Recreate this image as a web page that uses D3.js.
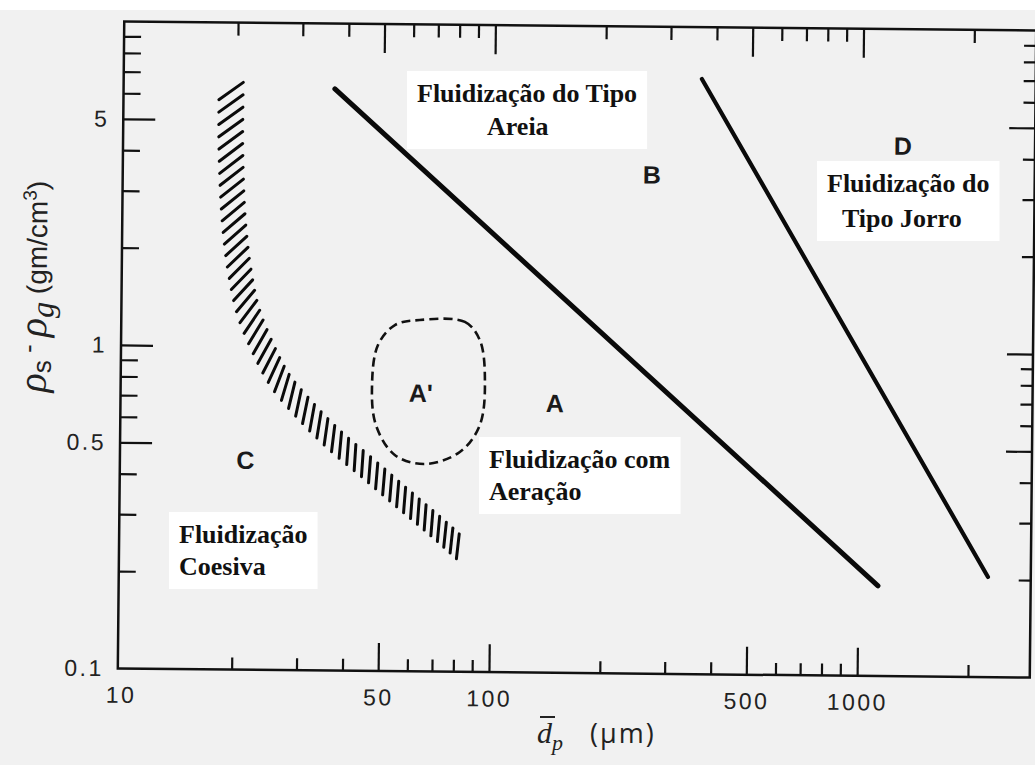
<!DOCTYPE html>
<html>
<head>
<meta charset="utf-8">
<script src="https://cdn.jsdelivr.net/npm/d3@7"></script>
<style>
  html, body { margin: 0; padding: 0; background: #ffffff; }
  svg { display: block; }
</style>
</head>
<body>
<svg id="chart" width="1035" height="765"></svg>
<script>
// ---- axis domains and ticks -------------------------------------------
const xDomain = [10, 3000];          // mean particle diameter, µm
const yDomain = [0.1, 10];           // density difference, g/cm³
const xTickLabels = [10, 50, 100, 500, 1000];
const yTickLabels = [0.1, 0.5, 1, 5];
const xMajorTicks = [50, 100, 500, 1000];
const xMinorTicks = [20, 30, 40, 60, 70, 80, 90, 200, 300, 400, 600, 700, 800, 900, 2000];
const yMajorTicks = [0.5, 1, 5];
const yMinorTicks = [0.2, 0.3, 0.4, 0.6, 0.7, 0.8, 0.9, 2, 3, 4, 6, 7, 8, 9];

// ---- group boundaries (dp µm, ρs-ρg g/cm³) ------------------------------
const boundaryAB = [[36.8, 6.28], [1133, 0.19]];
const boundaryBD = [[365, 6.92], [2253, 0.204]];
// centre line of the hatched C / A transition band
const bandCA = [
  [19.23, 6.41], [19.28, 4.04], [19.72, 2.45], [20.5, 1.72], [21.68, 1.29],
  [23.64, 1.01], [26.59, 0.788], [31.1, 0.638], [37.57, 0.516], [46.89, 0.418],
  [58.47, 0.338], [72.89, 0.274], [83.78, 0.238]
];
// outline of region A'
const regionAPrime = [
  [63.47, 1.22], [84.17, 1.207], [92.51, 1.062], [95.75, 0.80], [93.0, 0.58],
  [82.21, 0.478], [66.12, 0.438], [54.74, 0.466], [48.56, 0.576], [47.28, 0.765],
  [48.95, 1.018], [54.35, 1.175]
];
// group letters
const groupNames = ["A", "A'", "B", "C", "D"];
const groupX = [148.5, 64.2, 268.4, 21.5, 1288];
const groupY = [0.682, 0.726, 3.49, 0.445, 4.36];

// regime descriptions (Portuguese captions)
const regimeLines = [
  ["Fluidização do Tipo", "Areia"],
  ["Fluidização do", "Tipo Jorro"],
  ["Fluidização com", "Aeração"],
  ["Fluidização", "Coesiva"]
];

// ---- layout ------------------------------------------------------------
const W = 1035, H = 765;
const frame = { left: 121, right: 1033, top: 26, bottom: 673 };
const svg = d3.select("#chart");

svg.append("rect").attr("width", W).attr("height", H).attr("fill", "#f1f1f1");
svg.append("rect").attr("width", W).attr("height", 10).attr("fill", "#ffffff");

const x = d3.scaleLog().domain(xDomain).range([124, 1036]);
const y = d3.scaleLog().domain(yDomain).range([frame.bottom, frame.top]);

// the printed figure sits slightly skewed on the page
const plot = svg.append("g").attr("transform", "rotate(0.57, 577, 350)");

// caption boxes and captions (drawn flat, on top of the page)
const captionLayer = svg.append("g");

// ---- frame -------------------------------------------------------------
plot.append("rect")
  .attr("x", frame.left).attr("y", frame.top)
  .attr("width", frame.right - frame.left).attr("height", frame.bottom - frame.top)
  .attr("fill", "none").attr("stroke", "#111").attr("stroke-width", 2.5);

function tickAxis(axisFn, scale, values, size, transform) {
  const g = plot.append("g").attr("transform", transform)
    .call(axisFn(scale).tickValues(values).tickSize(size).tickFormat(""));
  g.select(".domain").remove();
  g.selectAll(".tick line").attr("stroke", "#111").attr("stroke-width", 2.2);
  return g;
}
// inward-pointing ticks on all four sides
tickAxis(d3.axisBottom, x, xMinorTicks, -12, `translate(0,${frame.bottom})`);
tickAxis(d3.axisBottom, x, xMajorTicks, -28, `translate(0,${frame.bottom})`);
tickAxis(d3.axisTop, x, xMinorTicks, -13, `translate(0,${frame.top})`);
tickAxis(d3.axisTop, x, xMajorTicks, -29, `translate(0,${frame.top})`);
tickAxis(d3.axisLeft, y, yMinorTicks, -17, `translate(${frame.left},0)`);
tickAxis(d3.axisLeft, y, yMajorTicks, -32, `translate(${frame.left},0)`);
tickAxis(d3.axisRight, y, yMinorTicks, -12, `translate(${frame.right},0)`);
tickAxis(d3.axisRight, y, yMajorTicks, -26, `translate(${frame.right},0)`);

// tick labels
const xl = plot.append("g").attr("transform", `translate(0,${frame.bottom})`)
  .call(d3.axisBottom(x).tickValues(xTickLabels).tickSize(0).tickPadding(18).tickFormat(d3.format("")));
xl.select(".domain").remove();
xl.selectAll("text").attr("font-family", "'Liberation Sans', Arial, sans-serif")
  .attr("font-size", 23).attr("fill", "#222").attr("letter-spacing", 2.5);

const yl = plot.append("g").attr("transform", `translate(${frame.left},0)`)
  .call(d3.axisLeft(y).tickValues(yTickLabels).tickSize(0).tickPadding(14).tickFormat(d3.format("")));
yl.select(".domain").remove();
yl.selectAll("text").attr("font-family", "'Liberation Sans', Arial, sans-serif")
  .attr("font-size", 23).attr("fill", "#222").attr("letter-spacing", 2.5);

// y axis title: ρs - ρg (gm/cm³)
const yTitle = plot.append("text")
  .attr("transform", `translate(46,292) rotate(-90)`)
  .attr("text-anchor", "middle")
  .attr("font-family", "'Liberation Sans', Arial, sans-serif")
  .attr("font-size", 30).attr("fill", "#222");
yTitle.append("tspan").attr("font-family", "'Liberation Serif', serif").attr("font-style", "italic").attr("font-size", 40).text("ρ");
yTitle.append("tspan").attr("dy", 5).attr("font-size", 26).text("s");
yTitle.append("tspan").attr("dy", -14).attr("font-size", 26).text(" - ");
yTitle.append("tspan").attr("dy", 9).attr("font-family", "'Liberation Serif', serif").attr("font-style", "italic").attr("font-size", 40).text("ρ");
yTitle.append("tspan").attr("dy", 7).attr("font-family", "'Liberation Serif', serif").attr("font-style", "italic").attr("font-size", 32).text("g");
yTitle.append("tspan").attr("dy", -7).attr("font-size", 28).text("  (gm/cm");
yTitle.append("tspan").attr("dy", -11).attr("font-size", 19).text("3");
yTitle.append("tspan").attr("dy", 11).attr("font-size", 28).text(")");

// ---- boundaries --------------------------------------------------------
const line = d3.line().x(d => x(d[0])).y(d => y(d[1]));
plot.append("path").attr("d", line(boundaryAB))
  .attr("fill", "none").attr("stroke", "#0a0a0a").attr("stroke-width", 5).attr("stroke-linecap", "round");
plot.append("path").attr("d", line(boundaryBD))
  .attr("fill", "none").attr("stroke", "#0a0a0a").attr("stroke-width", 4.2).attr("stroke-linecap", "round");

// region A' (dashed closed outline)
plot.append("path")
  .attr("d", d3.line().x(d => x(d[0])).y(d => y(d[1])).curve(d3.curveCatmullRomClosed.alpha(0.5))(regionAPrime))
  .attr("fill", "none").attr("stroke", "#111").attr("stroke-width", 2.6)
  .attr("stroke-dasharray", "9,5");

// hatched transition band: short strokes set across the centre line
const guide = plot.append("path")
  .attr("d", d3.line().x(d => x(d[0])).y(d => y(d[1])).curve(d3.curveCatmullRom.alpha(0.5))(bandCA))
  .attr("fill", "none").attr("stroke", "none");
const gNode = guide.node();
const total = gNode.getTotalLength();
const hatch = [];
for (let s = 6; s < total - 2; ) {
  const f = s / total;
  const p0 = gNode.getPointAtLength(Math.max(0, s - 2));
  const p1 = gNode.getPointAtLength(Math.min(total, s + 2));
  const p = gNode.getPointAtLength(s);
  const a = Math.atan2(p1.y - p0.y, p1.x - p0.x) + 54 * Math.PI / 180;
  const len = 30 - 5 * f;
  hatch.push({ x1: p.x - Math.cos(a) * len / 2, y1: p.y - Math.sin(a) * len / 2,
               x2: p.x + Math.cos(a) * len / 2, y2: p.y + Math.sin(a) * len / 2 });
  s += 12.5 - 4 * f;
}
plot.append("g").selectAll("line").data(hatch).join("line")
  .attr("x1", d => d.x1).attr("y1", d => d.y1).attr("x2", d => d.x2).attr("y2", d => d.y2)
  .attr("stroke", "#0a0a0a").attr("stroke-width", 3).attr("stroke-linecap", "round");

// group letters
plot.append("g").selectAll("text").data(groupNames).join("text")
  .attr("x", (d, i) => x(groupX[i])).attr("y", (d, i) => y(groupY[i]))
  .attr("dy", "0.36em").attr("text-anchor", "middle")
  .attr("font-family", "'Liberation Sans', Arial, sans-serif").attr("font-weight", "bold")
  .attr("font-size", 25).attr("fill", "#1a1a1a")
  .text(d => d);

// ---- regime captions -----------------------------------------------------
// left x and first baseline of each caption, second line offset and indent
const captionPos = [
  { x: 417, y: 102, dy: 33, indent: 70 },
  { x: 827, y: 192, dy: 35, indent: 15 },
  { x: 489, y: 468, dy: 32, indent: 0 },
  { x: 179, y: 543, dy: 32, indent: 0 }
];
regimeLines.forEach((lines, i) => {
  const pos = captionPos[i];
  const box = captionLayer.append("rect").attr("fill", "#ffffff");
  const t = captionLayer.append("text")
    .attr("font-family", "'Liberation Serif', 'Times New Roman', serif")
    .attr("font-weight", "bold").attr("font-size", 26).attr("fill", "#111");
  t.append("tspan").attr("x", pos.x).attr("y", pos.y).text(lines[0]);
  t.append("tspan").attr("x", pos.x + pos.indent).attr("y", pos.y + pos.dy).text(lines[1]);
  const bb = t.node().getBBox();
  box.attr("x", bb.x - 10).attr("y", bb.y - 8).attr("width", bb.width + 20).attr("height", bb.height + 16);
});

// x axis title: d̄p (µm)
const xt = captionLayer.append("text").attr("x", 537).attr("y", 743)
  .attr("font-family", "'Liberation Serif', serif").attr("font-size", 30).attr("fill", "#222");
xt.append("tspan").attr("font-style", "italic").text("d");
xt.append("tspan").attr("font-style", "italic").attr("font-size", 22).attr("dy", 7).text("p");
xt.append("tspan").attr("x", 590).attr("dy", -7).attr("font-family", "'Open Sans', sans-serif")
  .attr("font-size", 27).attr("letter-spacing", 2).text("(µm)");
const ext = xt.node().getExtentOfChar(0);
captionLayer.append("line")
  .attr("x1", ext.x + 3).attr("x2", ext.x + ext.width + 3)
  .attr("y1", 717).attr("y2", 717)
  .attr("stroke", "#222").attr("stroke-width", 2);
</script>
</body>
</html>
